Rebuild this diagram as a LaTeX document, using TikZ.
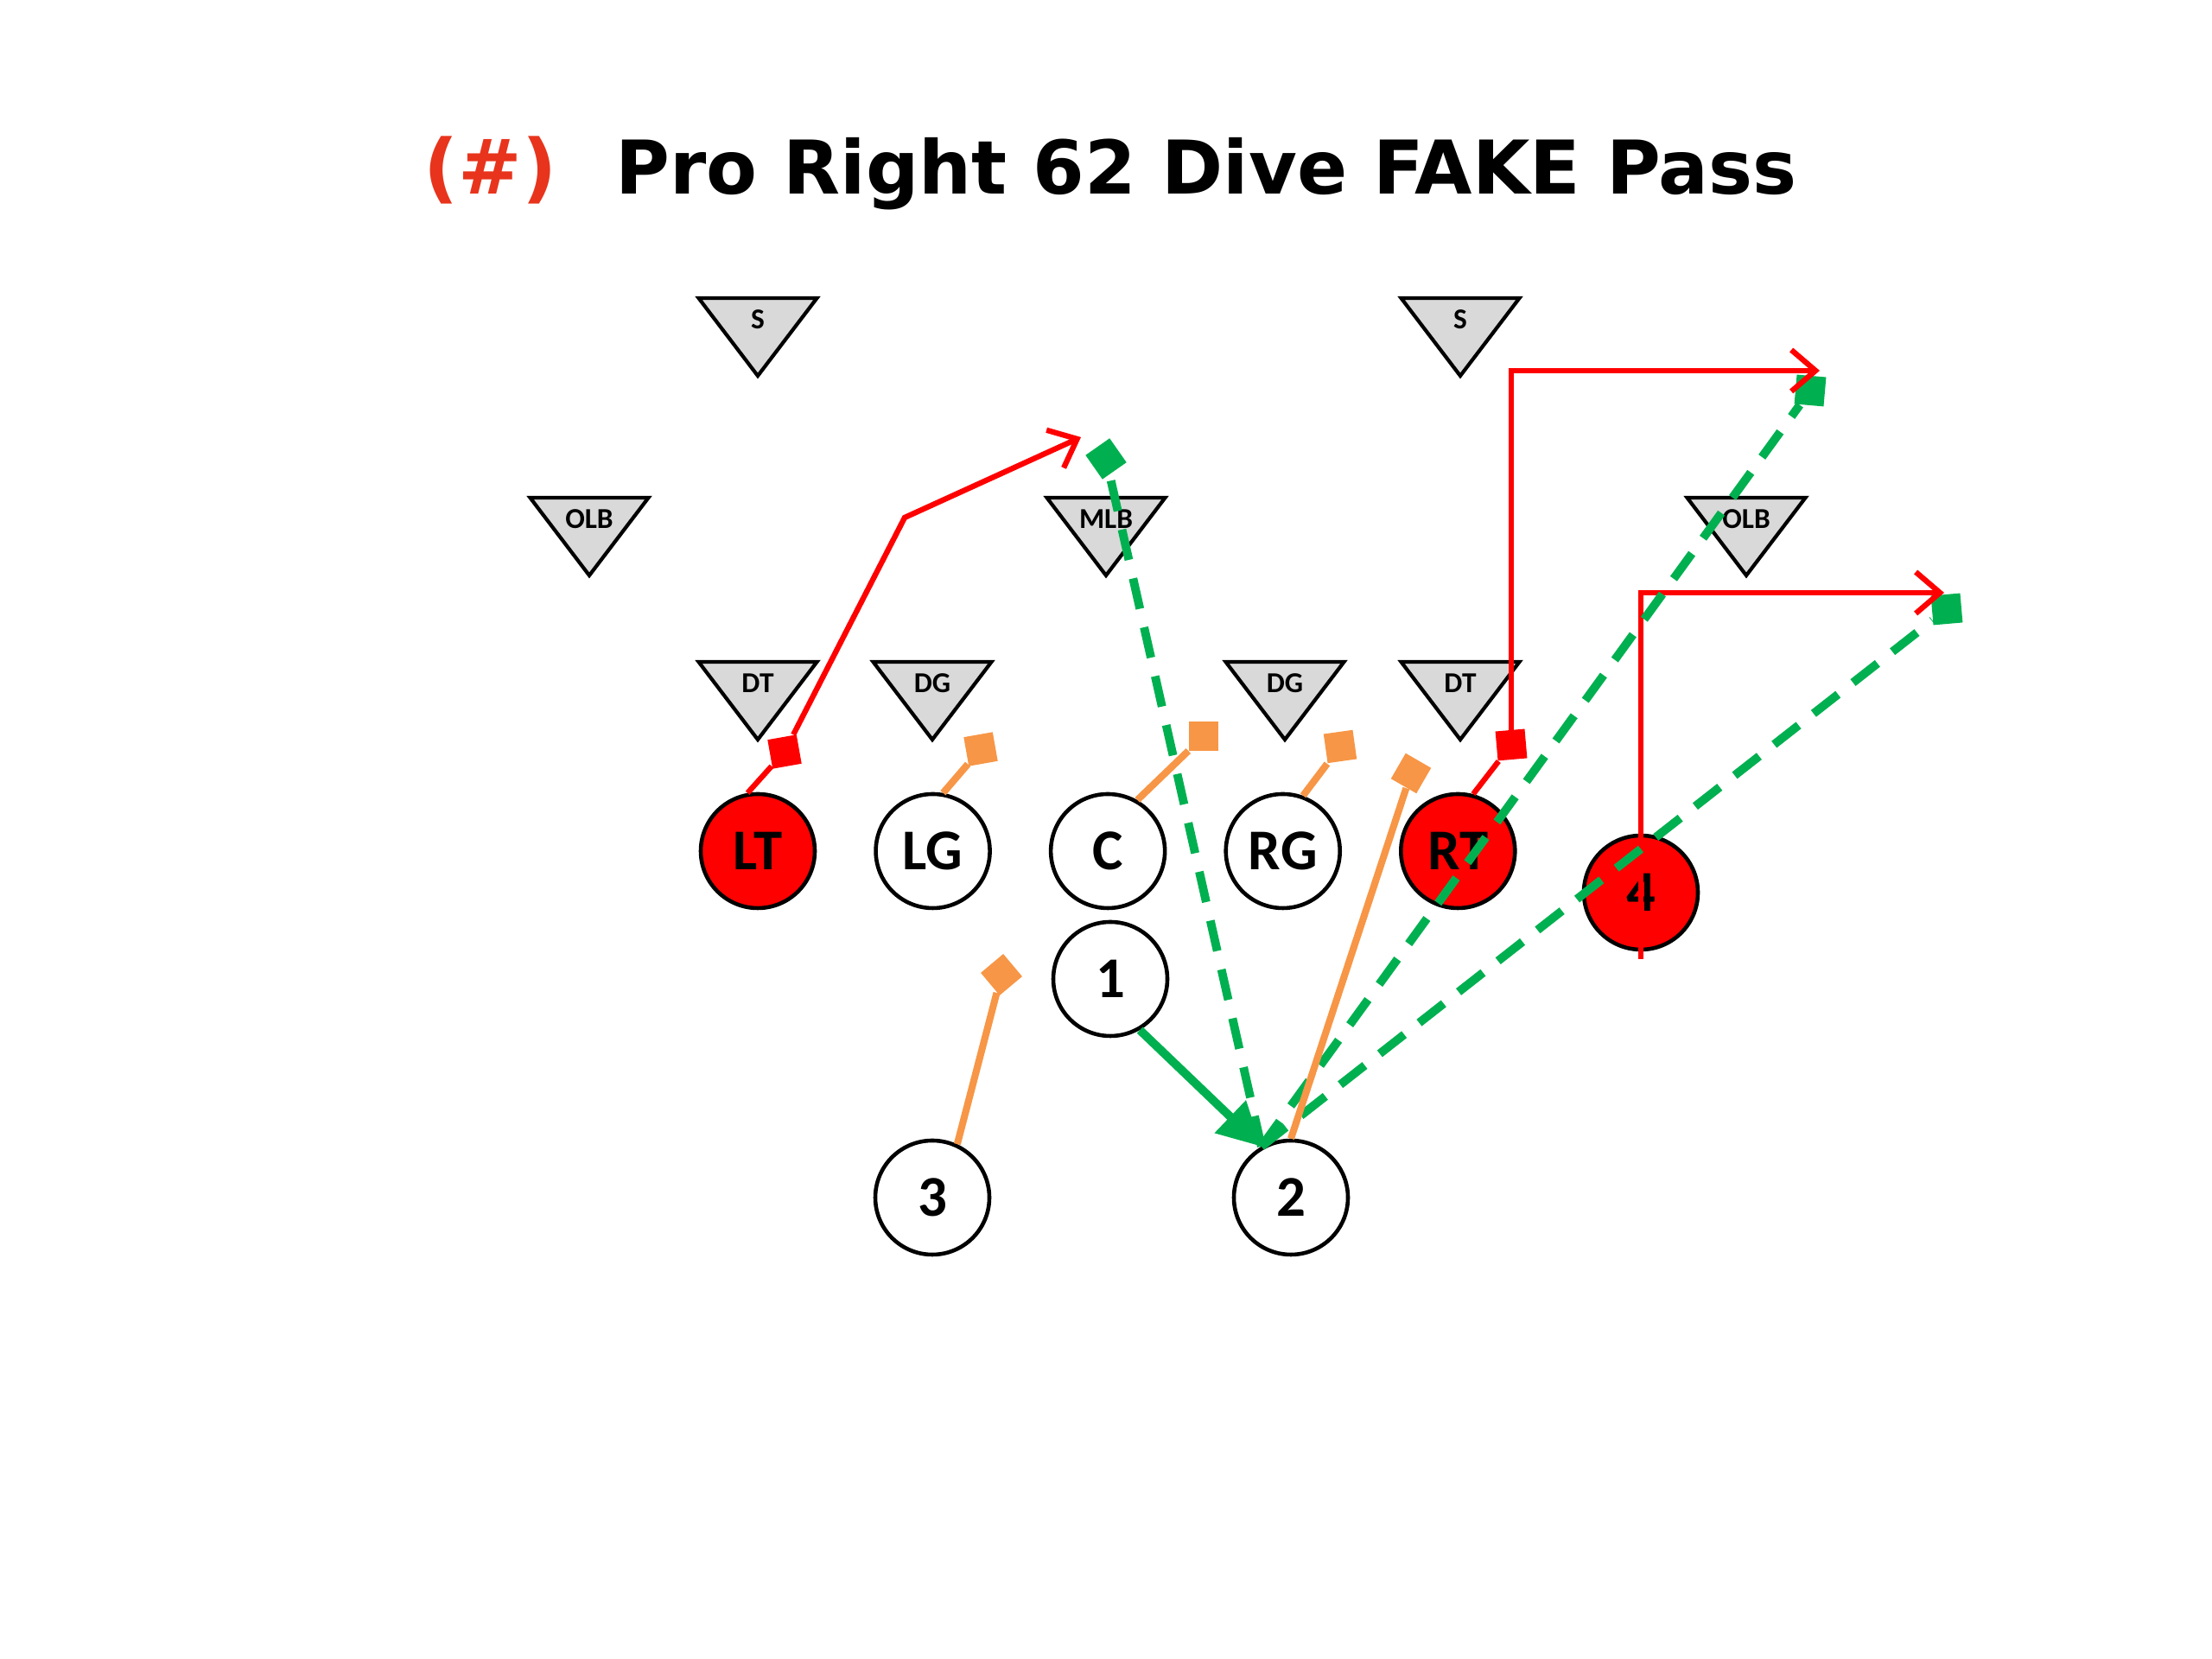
\documentclass[tikz,border=0pt]{standalone}
\usepackage{fontspec}
\usetikzlibrary{arrows.meta, positioning}
\newfontfamily\titlefont{DejaVu Sans}
\newfontfamily\playfont{Carlito}
\definecolor{numred}{RGB}{232,52,28}
\definecolor{blockorange}{RGB}{247,150,70}
\definecolor{routegreen}{RGB}{0,176,80}
\definecolor{defgray}{RGB}{217,217,217}

\begin{document}
\begin{tikzpicture}[>=Stealth, node distance=0.66cm,
    player/.style={circle, draw, line width=1.3pt, fill=white, minimum size=1.32cm, inner sep=0pt,
                   font=\playfont\bfseries\fontsize{19}{19}\selectfont},
    hot/.style={player, fill=red},
    deflabel/.style={inner sep=0pt, font=\playfont\bfseries\fontsize{9.5}{9.5}\selectfont},
    defshape/.style={draw, fill=defgray, line width=1.2pt, line join=miter},
    blocksq/.style={rectangle, minimum size=0.34cm, inner sep=0pt},
    redline/.style={draw=red, line width=1.8pt},
    orangeline/.style={draw=blockorange, line width=2.3pt},
    passline/.style={draw=routegreen, line width=2.8pt, dash pattern=on 0.36cm off 0.22cm},
    route/.style={-{Straight Barb[length=2.8mm, width=4.8mm]}}]

    \useasboundingbox (0,0) rectangle (25.6,19.2);

    % title
    \node[anchor=base west, inner sep=0pt, font=\titlefont\bfseries\fontsize{24.4}{24.4}\selectfont]
        (title) at (7.12,16.95) {Pro Right 62 Dive FAKE Pass};
    \node[base left=0.67cm of title, inner sep=0pt, text=numred,
          font=\titlefont\bfseries\fontsize{25}{25}\selectfont] (playno) {(\#)};

    % defense
    \foreach \nm/\x/\y/\txt in {sl/8.77/15.75/S, sr/16.90/15.75/S,
        olbl/6.82/13.44/OLB, mlb/12.80/13.44/MLB, olbr/20.21/13.44/OLB,
        dtl/8.77/11.54/DT, dgl/10.79/11.54/DG, dgr/14.87/11.54/DG, dtr/16.90/11.54/DT}
    {
        \draw[defshape] (\x-0.685,\y) -- (\x+0.685,\y) -- (\x,\y-0.9) -- cycle;
        \node[deflabel] (\nm) at (\x,\y-0.25) {\txt};
    }

    % offense
    \node[hot] (lt) at (8.77,9.35) {LT};
    \node[player, right=of lt] (lg) {LG};
    \node[player, right=of lg] (c) {C};
    \node[player, right=of c] (rg) {RG};
    \node[hot, right=of rg] (rt) {RT};
    \node[hot] (te) at (18.99,8.87) {4};
    \node[player] (qb) at (12.85,7.87) {1};
    \node[player] (fb) at (10.79,5.34) {3};
    \node[player] (hb) at (14.94,5.34) {2};

    % blocks and route ends
    \node[blocksq, fill=red, rotate=10] (ltb) at (9.08,10.50) {};
    \node[blocksq, fill=red, rotate=5] (rtb) at (17.49,10.58) {};
    \node[blocksq, fill=blockorange, rotate=10] (lgb) at (11.35,10.53) {};
    \node[blocksq, fill=blockorange] (cb) at (13.93,10.68) {};
    \node[blocksq, fill=blockorange, rotate=8] (rgb) at (15.51,10.56) {};
    \node[blocksq, fill=blockorange, rotate=-30] (hbb) at (16.33,10.25) {};
    \node[blocksq, fill=blockorange, rotate=40] (fbb) at (11.59,7.92) {};
    \node[blocksq, fill=routegreen, rotate=35] (mlbp) at (12.80,13.89) {};
    \node[blocksq, fill=routegreen, rotate=-5] (deepp) at (20.95,14.68) {};
    \node[blocksq, fill=routegreen, rotate=5] (flatp) at (22.53,12.15) {};

    \coordinate (ltbend) at (10.47,13.21);
    \coordinate (lttip) at (12.51,14.14);
    \coordinate (rtcorner) at (17.49,14.91);
    \coordinate (rttip) at (21.06,14.91);
    \coordinate (tefoot) at (18.99,8.10);
    \coordinate (tecorner) at (18.99,12.34);
    \coordinate (tetip) at (22.50,12.34);

    % red routes
    \draw[redline] (lt.100) -- (ltb);
    \draw[redline, route] (ltb) -- (ltbend) -- (lttip);
    \draw[redline] (rt.75) -- (rtb);
    \draw[redline, route] (rtb.center) -- (rtcorner) -- (rttip);
    \draw[redline, route] (tefoot) -- (tecorner) -- (tetip);

    % green pass lines
    \draw[passline] (hb.120) -- (mlbp);
    \draw[passline] (hb.120) -- (deepp);
    \draw[passline] (hb.120) -- (flatp);

    % orange blocks
    \draw[orangeline] (lg.80) -- (lgb);
    \draw[orangeline] (c.60) -- (cb);
    \draw[orangeline] (rg.70) -- (rgb);
    \draw[orangeline] (hb.north) -- (hbb);
    \draw[orangeline] (fb.65) -- (fbb);

    % handoff
    \draw[draw=routegreen, line width=2.8pt, -{Triangle[length=5mm, width=5mm]}] (qb.-60) -- (hb.120);
\end{tikzpicture}
\end{document}
